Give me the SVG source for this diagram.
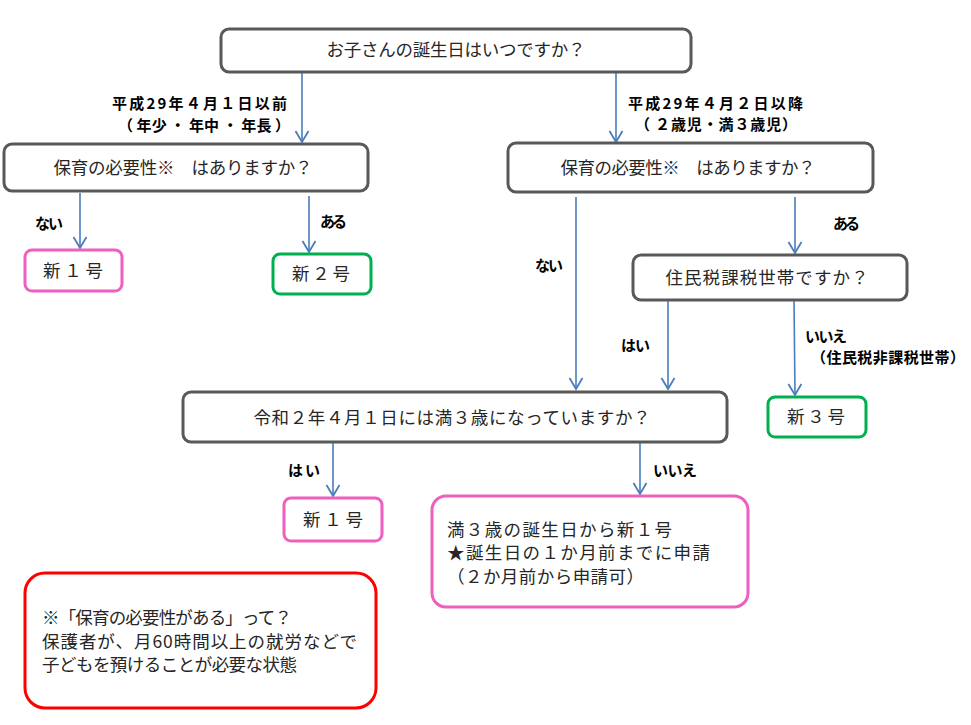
<svg xmlns="http://www.w3.org/2000/svg" width="971" height="725" viewBox="0 0 971 725">
<defs>
<style>
.bg{fill:#ffffff}
.q{fill:#ffffff;stroke:#595959;stroke-width:3}
.pk{fill:#ffffff;stroke:#ee5fc0;stroke-width:3}
.gr{fill:#ffffff;stroke:#00b050;stroke-width:3}
.rd{fill:#ffffff;stroke:#ff0000;stroke-width:3}
.t{font-family:"Noto Sans CJK JP","Noto Sans",sans-serif;font-size:17.5px;fill:#262626}
.c{text-anchor:middle}
.b{font-family:"Noto Sans CJK JP","Noto Sans",sans-serif;font-size:15px;font-weight:bold;fill:#000000}
.ar{fill:none;stroke:#4a7ebb;stroke-width:1.6}
</style>
<marker id="ah" markerUnits="userSpaceOnUse" markerWidth="16" markerHeight="16" viewBox="-13 -8 16 16" refX="0" refY="0" orient="auto">
<path d="M-11,-6.5 L0,0 L-11,6.5" fill="none" stroke="#4a7ebb" stroke-width="1.8"/>
</marker>
</defs>
<rect class="bg" x="0" y="0" width="971" height="725"/>

<g id="connectors">
<line class="ar" x1="302" y1="72" x2="302" y2="142" marker-end="url(#ah)"/>
<line class="ar" x1="616" y1="72" x2="616" y2="142" marker-end="url(#ah)"/>
<line class="ar" x1="80" y1="193" x2="80" y2="248" marker-end="url(#ah)"/>
<line class="ar" x1="309" y1="196" x2="309" y2="252" marker-end="url(#ah)"/>
<line class="ar" x1="576" y1="197" x2="576" y2="389" marker-end="url(#ah)"/>
<line class="ar" x1="795" y1="197" x2="795" y2="253" marker-end="url(#ah)"/>
<line class="ar" x1="668" y1="301" x2="668" y2="389" marker-end="url(#ah)"/>
<line class="ar" x1="794" y1="299" x2="795" y2="395" marker-end="url(#ah)"/>
<line class="ar" x1="333" y1="443" x2="333" y2="496" marker-end="url(#ah)"/>
<line class="ar" x1="640" y1="443" x2="640" y2="494" marker-end="url(#ah)"/>
<text class="b" x="112" y="109" textLength="175" lengthAdjust="spacing">平成29年４月１日以前</text>
<text class="b" x="118" y="131" textLength="172" lengthAdjust="spacing">（ 年少 ・ 年中 ・ 年長 ）</text>
<text class="b" x="628" y="109" textLength="175" lengthAdjust="spacing">平成29年４月２日以降</text>
<text class="b" x="635" y="130" textLength="162" lengthAdjust="spacing">（ ２歳児・満３歳児）</text>
<text class="b" x="35" y="229" textLength="28" lengthAdjust="spacing">ない</text>
<text class="b" x="320" y="227" textLength="27" lengthAdjust="spacing">ある</text>
<text class="b" x="535" y="271" textLength="28" lengthAdjust="spacing">ない</text>
<text class="b" x="833" y="229" textLength="27" lengthAdjust="spacing">ある</text>
<text class="b" x="621" y="351" textLength="29" lengthAdjust="spacing">はい</text>
<text class="b" x="805" y="342" textLength="42" lengthAdjust="spacing">いいえ</text>
<text class="b" x="811" y="363" textLength="154" lengthAdjust="spacing">（住民税非課税世帯）</text>
<text class="b" x="288" y="476" textLength="32" lengthAdjust="spacing">はい</text>
<text class="b" x="653" y="476" textLength="44" lengthAdjust="spacing">いいえ</text>
</g>

<g id="n-birthday">
<rect class="q" x="221" y="29" width="470" height="43" rx="8"/>
<text class="t c" x="456" y="56" textLength="259" lengthAdjust="spacing">お子さんの誕生日はいつですか？</text>
</g>
<g id="n-need-left">
<rect class="q" x="4" y="144" width="364" height="47" rx="8"/>
<text class="t c" x="183" y="174" textLength="259" lengthAdjust="spacing">保育の必要性※　はありますか？</text>
</g>
<g id="n-need-right">
<rect class="q" x="508" y="143" width="365" height="49" rx="8"/>
<text class="t c" x="688" y="174" textLength="255" lengthAdjust="spacing">保育の必要性※　はありますか？</text>
</g>
<g id="n-new1-a">
<rect class="pk" x="25" y="250" width="97" height="41" rx="7"/>
<text class="t c" x="73" y="277" textLength="60" lengthAdjust="spacing">新１号</text>
</g>
<g id="n-new2">
<rect class="gr" x="273" y="254" width="98" height="40" rx="7"/>
<text class="t c" x="321" y="280" textLength="58" lengthAdjust="spacing">新２号</text>
</g>
<g id="n-tax">
<rect class="q" x="633" y="255" width="274" height="45" rx="8"/>
<text class="t c" x="767" y="284" textLength="203" lengthAdjust="spacing">住民税課税世帯ですか？</text>
</g>
<g id="n-new3">
<rect class="gr" x="768" y="397" width="98" height="40" rx="7"/>
<text class="t c" x="816" y="423" textLength="58" lengthAdjust="spacing">新３号</text>
</g>
<g id="n-reiwa">
<rect class="q" x="183" y="392" width="544" height="50" rx="8"/>
<text class="t c" x="452" y="424" textLength="397" lengthAdjust="spacing">令和２年４月１日には満３歳になっていますか？</text>
</g>
<g id="n-new1-b">
<rect class="pk" x="284" y="498" width="98" height="43" rx="7"/>
<text class="t c" x="333" y="526" textLength="60" lengthAdjust="spacing">新１号</text>
</g>
<g id="n-new1-c">
<rect class="pk" x="432" y="496" width="316" height="111" rx="14"/>
<text class="t" x="447" y="536" textLength="225" lengthAdjust="spacing">満３歳の誕生日から新１号</text>
<text class="t" x="447" y="559" textLength="263" lengthAdjust="spacing">★誕生日の１か月前までに申請</text>
<text class="t" x="447" y="583" textLength="197" lengthAdjust="spacing">（２か月前から申請可）</text>
</g>
<g id="n-note">
<rect class="rd" x="25" y="573" width="351" height="135" rx="20"/>
<text class="t" x="42" y="624" textLength="250" lengthAdjust="spacing">※「保育の必要性がある」って？</text>
<text class="t" x="42" y="648" textLength="315" lengthAdjust="spacing">保護者が、月60時間以上の就労などで</text>
<text class="t" x="42" y="671" textLength="255" lengthAdjust="spacing">子どもを預けることが必要な状態</text>
</g>
</svg>
